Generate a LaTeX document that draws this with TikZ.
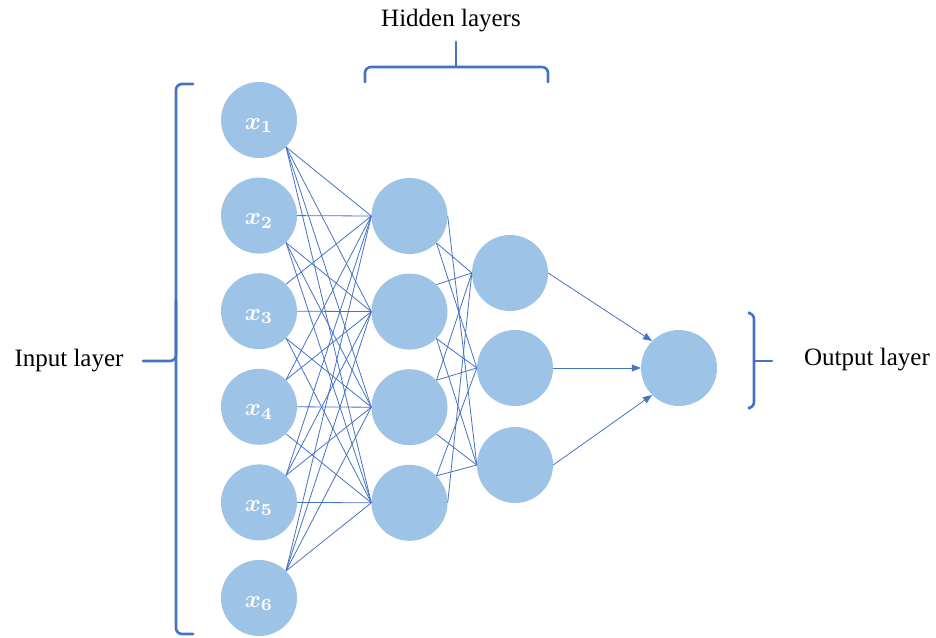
\documentclass[tikz,border=0pt]{standalone}
\usepackage{fontspec}
\setmainfont{Liberation Serif}
\usetikzlibrary{arrows.meta}
\definecolor{nodefill}{HTML}{9DC3E6}
\definecolor{linkblue}{HTML}{4472C4}
\newcommand{\inlabel}[1]{\raisebox{-9pt}[0pt][0pt]{\scalebox{2.45}{\boldmath$x_{#1}$}}}
\begin{document}
\begin{tikzpicture}[x=1pt,y=-1pt,
  neuron/.style={circle,fill=nodefill,draw=none,minimum size=76pt,inner sep=0pt,
    text=white},
  link/.style={draw=linkblue,line width=0.8pt},
  outlink/.style={link,-{Triangle[length=9pt,width=7pt]}},
  bracket/.style={draw=linkblue,line width=2.6pt,line cap=round,rounded corners=6pt},
  caption/.style={font=\fontsize{25}{30}\selectfont,inner sep=0pt}]
\useasboundingbox (0,0) rectangle (936,637);

% input layer
\foreach \i/\y in {1/120,2/215.6,3/311.2,4/406.8,5/502.4,6/598}
  \node[neuron] (in\i) at (259,\y) {\inlabel{\i}};
% first hidden layer
\foreach \j/\y in {1/216,2/311.6,3/407.2,4/502.8}
  \node[neuron] (ha\j) at (409.5,\y) {};
% second hidden layer
\node[neuron] (hb1) at (510,273) {};
\node[neuron] (hb2) at (515,368) {};
\node[neuron] (hb3) at (515,465) {};
% output layer
\node[neuron] (out) at (679,368) {};

% input -> first hidden layer (input i is level with hidden node i-1)
\foreach \i in {1,...,6}{
  \foreach \j in {1,...,4}{
    \pgfmathtruncatemacro{\d}{\j-\i+1}
    \ifnum \d<0
      \draw[link] (in\i.north east) -- (ha\j.west);
    \else\ifnum \d>0
      \draw[link] (in\i.south east) -- (ha\j.west);
    \else
      \draw[link] (in\i.east) -- (ha\j.west);
    \fi\fi
  }
}

% first hidden -> second hidden layer
\draw[link] (ha1.south east) -- (hb1.west);
\draw[link] (ha1.south east) -- (hb2.west);
\draw[link] (ha1.east) -- (hb3.west);
\draw[link] (ha2.north east) -- (hb1.west);
\draw[link] (ha2.south east) -- (hb2.west);
\draw[link] (ha2.south east) -- (hb3.west);
\draw[link] (ha3.north east) -- (hb1.west);
\draw[link] (ha3.north east) -- (hb2.west);
\draw[link] (ha3.south east) -- (hb3.west);
\draw[link] (ha4.east) -- (hb1.west);
\draw[link] (ha4.north east) -- (hb2.west);
\draw[link] (ha4.north east) -- (hb3.west);

% second hidden -> output
\draw[outlink] (hb1.east) -- (out.north west);
\draw[outlink] (hb2.east) -- (out.west);
\draw[outlink] (hb3.east) -- (out.south west);

% brackets
\draw[bracket] (193,84) -- (176,84) -- (176,361) -- (143,361);
\draw[bracket] (176,300) -- (176,634) -- (193,634);
\draw[bracket] (365,82) -- (365,67) -- (548,67) -- (548,82);
\draw[bracket] (456,67) -- (456,42);
\draw[bracket] (750,313) -- (754,313) -- (754,408) -- (750,408);
\draw[bracket] (754,361) -- (772,361);

% captions
\node[caption] (lblhidden) at (451,21) {Hidden layers};
\node[caption] (lblinput) at (69,361) {Input layer};
\node[caption] (lbloutput) at (867,360) {Output layer};
\end{tikzpicture}
\end{document}
